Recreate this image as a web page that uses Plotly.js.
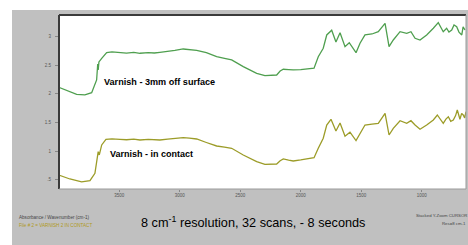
<!DOCTYPE html>
<html>
<head>
<meta charset="utf-8">
<script src="https://cdn.plot.ly/plotly-3.0.1.min.js"></script>
<style>
html,body{margin:0;padding:0;background:#ffffff;width:468px;height:245px;overflow:hidden;}
#chart{position:absolute;left:12px;top:10px;width:456px;height:235px;}
</style>
</head>
<body>
<div id="chart"></div>
<script>
// Upper spectrum: Varnish - 3mm off surface
const wnUpper = [4000, 3935, 3852, 3784, 3728, 3687, 3678, 3674, 3668, 3645, 3604, 3560, 3494, 3440, 3380, 3329, 3260, 3210, 3164, 3100, 3040, 2971, 2920, 2860, 2780, 2695, 2630, 2571, 2475, 2420, 2364, 2296, 2240, 2199, 2170, 2144, 2100, 2062, 2000, 1951, 1890, 1855, 1814, 1785, 1744, 1709, 1675, 1634, 1599, 1543, 1510, 1469, 1411, 1359, 1303, 1270, 1235, 1179, 1124, 1089, 1055, 1014, 959, 904, 863, 822, 794, 775, 752, 733, 711, 692, 669, 658, 642];
const absUpper = [2.115, 2.056, 1.993, 1.981, 2.021, 2.243, 2.523, 2.418, 2.558, 2.622, 2.72, 2.735, 2.727, 2.712, 2.725, 2.71, 2.722, 2.715, 2.727, 2.74, 2.76, 2.785, 2.775, 2.762, 2.72, 2.65, 2.62, 2.593, 2.476, 2.42, 2.36, 2.318, 2.322, 2.33, 2.40, 2.43, 2.425, 2.418, 2.425, 2.435, 2.448, 2.65, 2.797, 3.03, 3.112, 2.907, 3.068, 2.825, 2.895, 2.72, 2.885, 3.03, 3.047, 3.087, 3.234, 2.825, 2.942, 3.087, 3.059, 3.087, 2.972, 2.942, 3.03, 3.147, 3.245, 3.087, 3.147, 3.082, 3.117, 3.205, 3.175, 3.08, 3.03, 3.17, 3.117];

// Lower spectrum: Varnish - in contact
const wnLower = [4000, 3908, 3811, 3742, 3701, 3682, 3674, 3665, 3645, 3610, 3560, 3494, 3440, 3380, 3329, 3260, 3210, 3164, 3100, 3040, 2971, 2920, 2860, 2780, 2695, 2630, 2571, 2475, 2420, 2364, 2296, 2240, 2199, 2170, 2144, 2100, 2062, 2000, 1951, 1890, 1855, 1814, 1785, 1750, 1709, 1675, 1634, 1593, 1543, 1510, 1469, 1411, 1359, 1303, 1270, 1235, 1179, 1124, 1089, 1055, 1014, 959, 904, 871, 822, 800, 780, 760, 739, 720, 706, 684, 670, 657, 645, 634];
const absLower = [0.582, 0.512, 0.46, 0.482, 0.612, 0.844, 0.989, 0.932, 1.107, 1.206, 1.215, 1.206, 1.198, 1.21, 1.194, 1.205, 1.2, 1.194, 1.21, 1.222, 1.234, 1.228, 1.211, 1.15, 1.089, 1.07, 1.049, 0.932, 0.87, 0.815, 0.769, 0.772, 0.774, 0.83, 0.862, 0.84, 0.827, 0.845, 0.862, 0.885, 1.049, 1.224, 1.456, 1.556, 1.351, 1.491, 1.26, 1.33, 1.182, 1.311, 1.456, 1.473, 1.486, 1.661, 1.281, 1.398, 1.531, 1.486, 1.531, 1.456, 1.381, 1.456, 1.544, 1.631, 1.486, 1.56, 1.601, 1.52, 1.544, 1.62, 1.718, 1.556, 1.66, 1.631, 1.58, 1.689];

const xTickVals = [3500, 3000, 2500, 2000, 1500, 1000];
const xTickText = ['3500', '3000', '2500', '2000', '1500', '1000'];
const yTickVals = [3, 2.5, 2, 1.5, 1, 0.5];
const yTickText = ['3', '2.5', '2', '1.5', '1', '.5'];

const labelUpper = 'Varnish - 3mm off surface';
const labelLower = 'Varnish - in contact';
const caption = '8 cm<sup>-1</sup> resolution, 32 scans, - 8 seconds';
const infoLine1 = 'Absorbance / Wavenumber (cm-1)';
const infoLine2 = 'File # 2 = VARNISH 2 IN CONTACT';
const infoRight1 = 'Stacked Y-Zoom CURSOR';
const infoRight2 = 'Res=8 cm-1';

const font = 'Arial, "Liberation Sans", sans-serif';

const traces = [
  {x: wnUpper, y: absUpper, type: 'scatter', mode: 'lines',
   line: {color: '#4f9f4f', width: 1.3}, hoverinfo: 'skip'},
  {x: wnLower, y: absLower, type: 'scatter', mode: 'lines',
   line: {color: '#9c9c28', width: 1.3}, hoverinfo: 'skip'}
];

const layout = {
  width: 456, height: 235,
  margin: {l: 47, r: 2, t: 5, b: 56, pad: 0},
  paper_bgcolor: '#c0c0c0',
  plot_bgcolor: '#ffffff',
  showlegend: false,
  font: {family: font, color: '#000'},
  xaxis: {
    range: [3998, 634], showgrid: false, zeroline: false, showline: false,
    tickvals: xTickVals, ticktext: xTickText,
    ticks: 'outside', ticklen: 2, tickcolor: '#888', tickwidth: 1,
    tickfont: {size: 4.5, color: '#555', family: font}
  },
  yaxis: {
    range: [0.337, 3.379], showgrid: false, zeroline: false, showline: false,
    tickvals: yTickVals, ticktext: yTickText,
    ticks: 'outside', ticklen: 3, tickcolor: '#888', tickwidth: 1,
    ticklabelstandoff: 3,
    tickfont: {size: 4.5, color: '#555', family: font}
  },
  shapes: [
    {type: 'line', xref: 'paper', yref: 'paper', x0: 0, x1: 1, y0: 1, y1: 1, line: {color: '#3a3a3a', width: 2}},
    {type: 'line', xref: 'paper', yref: 'paper', x0: 0, x1: 0, y0: 0, y1: 1, line: {color: '#3a3a3a', width: 2}},
    {type: 'line', xref: 'paper', yref: 'paper', x0: 0, x1: 1, y0: 0, y1: 0, line: {color: '#9a9a9a', width: 1}},
    {type: 'line', xref: 'paper', yref: 'paper', x0: 1, x1: 1, y0: 0, y1: 1, line: {color: '#9a9a9a', width: 1}}
  ],
  annotations: [
    {text: '<b>' + labelUpper + '</b>', xref: 'paper', yref: 'paper', x: 0.1057, y: 0.615,
     xanchor: 'left', yanchor: 'middle', showarrow: false, font: {size: 9.1, color: '#000', family: font}},
    {text: '<b>' + labelLower + '</b>', xref: 'paper', yref: 'paper', x: 0.121, y: 0.201,
     xanchor: 'left', yanchor: 'middle', showarrow: false, font: {size: 9, color: '#000', family: font}},
    {text: caption, xref: 'paper', yref: 'paper', x: 0.477, y: -0.188,
     xanchor: 'center', yanchor: 'middle', showarrow: false, font: {size: 12.7, color: '#000', family: font}},
    {text: infoLine1, xref: 'paper', yref: 'paper', x: -0.1032, y: -0.161,
     xanchor: 'left', yanchor: 'middle', showarrow: false, font: {size: 4.6, color: '#444', family: font}},
    {text: infoLine2, xref: 'paper', yref: 'paper', x: -0.1032, y: -0.2126,
     xanchor: 'left', yanchor: 'middle', showarrow: false, font: {size: 4.6, color: '#b09a20', family: font}},
    {text: infoRight1, xref: 'paper', yref: 'paper', x: 0.872, y: -0.155,
     xanchor: 'left', yanchor: 'middle', showarrow: false, font: {size: 4.3, color: '#444', family: font}},
    {text: infoRight2, xref: 'paper', yref: 'paper', x: 0.935, y: -0.198,
     xanchor: 'left', yanchor: 'middle', showarrow: false, font: {size: 4.3, color: '#444', family: font}}
  ]
};

Plotly.newPlot('chart', traces, layout, {staticPlot: true, displayModeBar: false});
</script>
</body>
</html>
